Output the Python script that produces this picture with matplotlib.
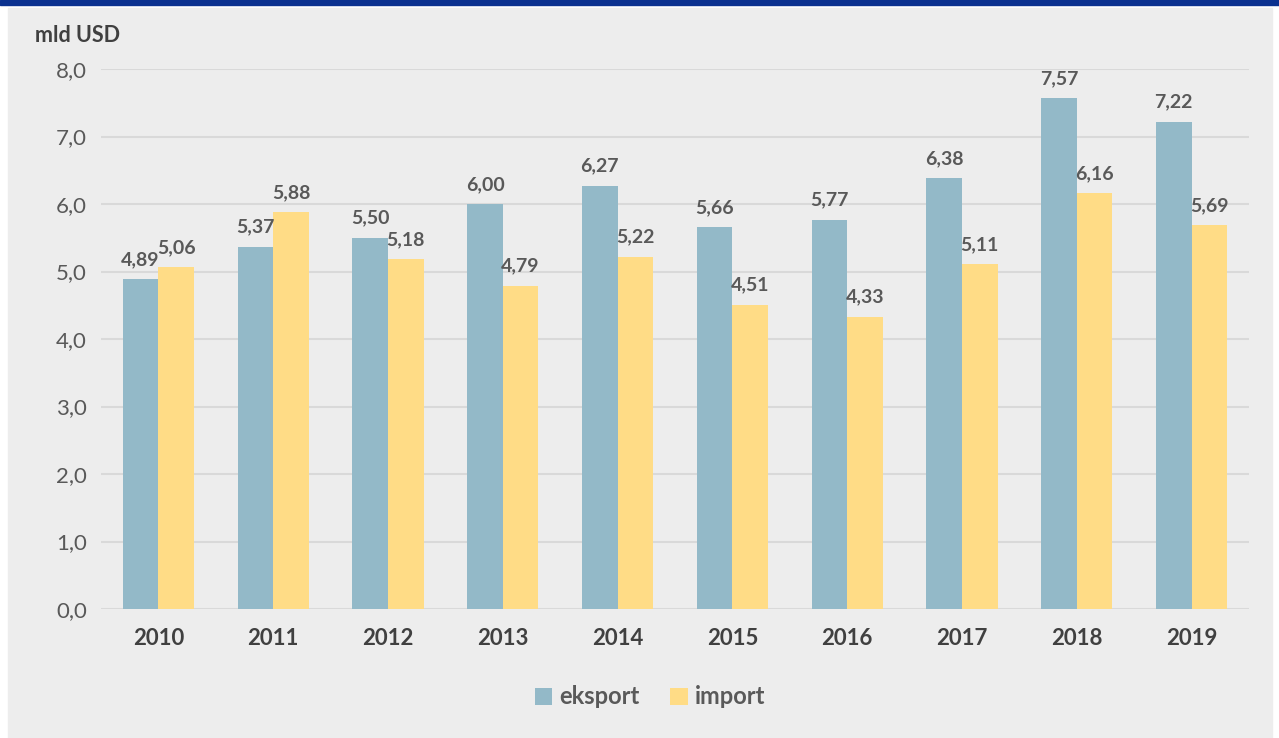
import matplotlib
matplotlib.use('Agg')
import matplotlib.pyplot as plt
import numpy as np
from matplotlib.patches import Rectangle

YEARS = ['2010', '2011', '2012', '2013', '2014', '2015', '2016', '2017', '2018', '2019']
EKSPORT = [4.89, 5.37, 5.50, 6.00, 6.27, 5.66, 5.77, 6.38, 7.57, 7.22]
IMPORT = [5.06, 5.88, 5.18, 4.79, 5.22, 4.51, 4.33, 5.11, 6.16, 5.69]
Y_TICKS = [0, 1, 2, 3, 4, 5, 6, 7, 8]

C_EKS = '#93B9C8'
C_IMP = '#FFDC86'
BG = '#EDEDED'
TXT = '#404040'
TICK = '#595959'

plt.rcParams['font.family'] = ['Lato', 'DejaVu Sans']


def fmt(v, nd=2):
    return f'{v:.{nd}f}'.replace('.', ',')


fig = plt.figure(figsize=(12.79, 7.38), dpi=100, facecolor='white')
fig.patches.append(Rectangle((8 / 1279, 0), 1264 / 1279, 730 / 738,
                             transform=fig.transFigure, color=BG, zorder=-2))
fig.patches.append(Rectangle((0, 733 / 738), 1, 5 / 738,
                             transform=fig.transFigure, color='#0B318F', zorder=-2))

ax = fig.add_axes([101 / 1279, 1 - 609 / 738, 1148 / 1279, 540 / 738])
ax.set_facecolor('none')

x = np.arange(len(YEARS))
w = 0.31
b1 = ax.bar(x - w / 2, EKSPORT, w, color=C_EKS, label='eksport', zorder=2)
b2 = ax.bar(x + w / 2, IMPORT, w, color=C_IMP, label='import', zorder=2)

for bars, vals in ((b1, EKSPORT), (b2, IMPORT)):
    for r, v in zip(bars, vals):
        ax.annotate(fmt(v), (r.get_x() + r.get_width() / 2, v), xytext=(0, 8),
                    textcoords='offset points', ha='center', va='bottom',
                    fontsize=14, fontweight='bold', color=TICK)

ax.set_xlim(-0.5, len(YEARS) - 0.5)
ax.set_ylim(0, 8)
ax.set_yticks(Y_TICKS)
ax.set_yticklabels([fmt(t, 1) for t in Y_TICKS], fontsize=16, color=TICK)
ax.set_xticks(x)
ax.set_xticklabels(YEARS, fontsize=16, fontweight='bold', color=TXT)
ax.tick_params(axis='both', length=0)
ax.tick_params(axis='y', pad=10)
ax.tick_params(axis='x', pad=14)
ax.grid(axis='y', color='#D9D9D9', linewidth=1.5, zorder=0)
ax.set_axisbelow(True)
for s in ax.spines.values():
    s.set_visible(False)

fig.text(35 / 1279, 1 - 35 / 738, 'mld USD', fontsize=15.5, fontweight='bold',
         color=TXT, va='center', ha='left')

leg = fig.legend(handles=[b1, b2], loc='center', bbox_to_anchor=(650 / 1279, 1 - 697 / 738),
                 ncol=2, frameon=False, fontsize=17, handlelength=0.75, handleheight=0.75,
                 handletextpad=0.3, columnspacing=1.3)
for t in leg.get_texts():
    t.set_fontweight('bold')
    t.set_color(TICK)

fig.savefig('out.png', dpi=100, facecolor=fig.get_facecolor())
